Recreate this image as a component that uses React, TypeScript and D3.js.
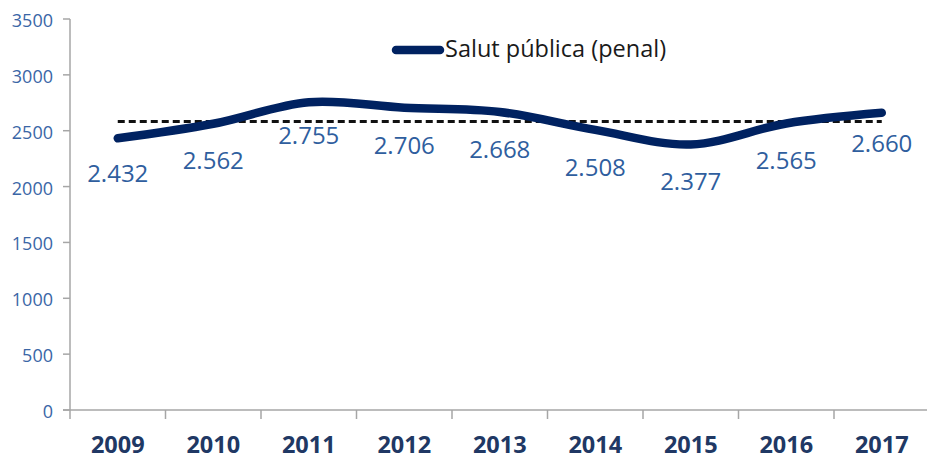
import React from "react";
import * as d3 from "d3";

// Salut pública (penal) — annual figures
const years = ["2009", "2010", "2011", "2012", "2013", "2014", "2015", "2016", "2017"];
const values = [2432, 2562, 2755, 2706, 2668, 2508, 2377, 2565, 2660];
const yTicks = [0, 500, 1000, 1500, 2000, 2500, 3000, 3500];
const seriesName = "Salut pública (penal)";

// vertical nudges for individual value labels (px)
const labelNudge = [-2, -1, -4, 0, 0, 0, 0, 0, -7];

const W = 927;
const H = 460;

const fmt = (v: number) => {
  const s = String(v);
  return s.length > 3 ? s.slice(0, s.length - 3) + "." + s.slice(-3) : s;
};

export default function App() {
  const x = d3
    .scaleBand<string>()
    .domain(years)
    .range([70, 70 + years.length * 95.5]);
  const y = d3.scaleLinear().domain([0, 3500]).range([410, 19]);
  const cx = (yr: string) => (x(yr) as number) + x.bandwidth() / 2;

  const pts: [number, number][] = years.map((yr, i) => [cx(yr), y(values[i])]);
  const line = d3.line().curve(d3.curveCardinal.tension(0))(pts) as string;

  const mean = d3.mean(values) as number;
  const axisColor = "#a6a6a6";
  const font = "'Open Sans', 'Noto Sans', sans-serif";

  return (
    <svg
      width={W}
      height={H}
      style={{ position: "absolute", left: 0, top: 0, background: "#fff" }}
      fontFamily={font}
    >
      {/* y axis */}
      <line x1={70} x2={70} y1={y(3500)} y2={y(0)} stroke={axisColor} strokeWidth={1.5} />
      {yTicks.map((t) => (
        <g key={t}>
          <line x1={63} x2={70} y1={y(t)} y2={y(t)} stroke={axisColor} strokeWidth={1.5} />
          <text
            x={53}
            y={y(t) + 1}
            textAnchor="end"
            dominantBaseline="central"
            fontSize={18}
            fill="#3a66a6"
          >
            {t}
          </text>
        </g>
      ))}

      {/* x axis */}
      <line x1={63} x2={W} y1={y(0)} y2={y(0)} stroke={axisColor} strokeWidth={1.5} />
      {years.map((yr) => (
        <line
          key={yr}
          x1={x(yr) as number}
          x2={x(yr) as number}
          y1={y(0)}
          y2={y(0) + 9}
          stroke={axisColor}
          strokeWidth={1.5}
        />
      ))}
      {years.map((yr) => (
        <text
          key={yr}
          x={cx(yr)}
          y={453}
          textAnchor="middle"
          fontSize={23.5}
          fontWeight="bold"
          fill="#203864"
        >
          {yr}
        </text>
      ))}

      {/* average */}
      <line
        x1={cx(years[0])}
        x2={cx(years[years.length - 1])}
        y1={y(mean)}
        y2={y(mean)}
        stroke="#111"
        strokeWidth={3}
        strokeDasharray="7 4"
      />

      {/* series */}
      <path
        d={line}
        fill="none"
        stroke="#002261"
        strokeWidth={8.5}
        strokeLinecap="round"
        strokeLinejoin="round"
      />

      {/* value labels */}
      {years.map((yr, i) => (
        <text
          key={yr}
          x={cx(yr)}
          y={y(values[i]) + 46 + labelNudge[i]}
          textAnchor="middle"
          fontSize={24}
          fill="#2f5e9e"
        >
          {fmt(values[i])}
        </text>
      ))}

      {/* legend */}
      <line x1={396} x2={440} y1={50} y2={50} stroke="#002261" strokeWidth={8.5} strokeLinecap="round" />
      <text x={445} y={57} fontSize={23.5} fill="#1a1a1a">
        {seriesName}
      </text>
    </svg>
  );
}
